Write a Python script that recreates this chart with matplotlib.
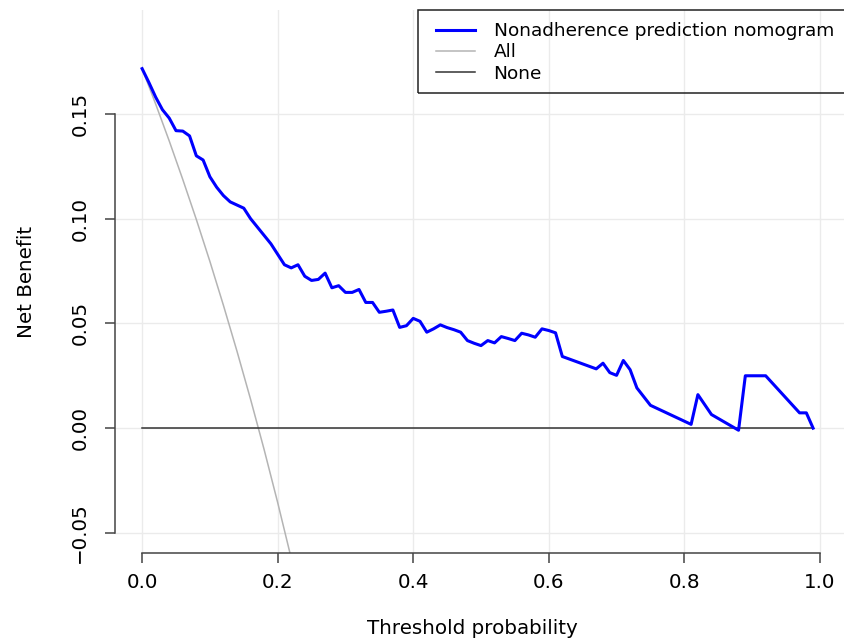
import matplotlib
matplotlib.use("Agg")
import matplotlib.pyplot as plt
from matplotlib.patches import Rectangle

# decision curve: nomogram net benefit
thresholds = [0.00, 0.01, 0.02, 0.03, 0.04, 0.05, 0.06, 0.07, 0.08, 0.09,
              0.10, 0.11, 0.12, 0.13, 0.14, 0.15, 0.16, 0.17, 0.18, 0.19,
              0.20, 0.21, 0.22, 0.23, 0.24, 0.25, 0.26, 0.27, 0.28, 0.29,
              0.30, 0.31, 0.32, 0.33, 0.34, 0.35, 0.36, 0.37, 0.38, 0.39,
              0.40, 0.41, 0.42, 0.43, 0.44, 0.45, 0.46, 0.47, 0.48, 0.49,
              0.50, 0.51, 0.52, 0.53, 0.54, 0.55, 0.56, 0.57, 0.58, 0.59,
              0.60, 0.61, 0.62, 0.67, 0.68, 0.69, 0.70, 0.71, 0.72, 0.73,
              0.75, 0.81, 0.82, 0.84, 0.88, 0.89, 0.92, 0.97, 0.98, 0.99]
nomogram_nb = [0.1716, 0.1650, 0.1580, 0.1520, 0.1480, 0.1420, 0.1418, 0.1395, 0.1300, 0.1280,
               0.1200, 0.1150, 0.1110, 0.1080, 0.1065, 0.1050, 0.1000, 0.0960, 0.0920, 0.0880,
               0.0830, 0.0780, 0.0765, 0.0780, 0.0725, 0.0705, 0.0710, 0.0740, 0.0670, 0.0680,
               0.0648, 0.0648, 0.0662, 0.0600, 0.0600, 0.0553, 0.0558, 0.0564, 0.0481, 0.0489,
               0.0524, 0.0510, 0.0458, 0.0474, 0.0493, 0.0480, 0.0470, 0.0458, 0.0418, 0.0405,
               0.0394, 0.0418, 0.0407, 0.0437, 0.0428, 0.0418, 0.0453, 0.0445, 0.0434, 0.0474,
               0.0466, 0.0455, 0.0342, 0.0283, 0.0310, 0.0265, 0.0252, 0.0323, 0.0279, 0.0192,
               0.0109, 0.0018, 0.0160, 0.0065, -0.0010, 0.0250, 0.0250, 0.0073, 0.0073, 0.0000]

# treat-all curve
all_t = [0.00, 0.02, 0.04, 0.06, 0.08, 0.10, 0.12, 0.14, 0.16, 0.18, 0.20, 0.22]
all_nb = [0.1716, 0.1547, 0.1371, 0.1187, 0.0996, 0.0796, 0.0586, 0.0367, 0.0138, -0.0102, -0.0355, -0.0621]

# treat-none
none_t = [0.00, 0.99]
none_nb = [0.0, 0.0]

xticks = [0.0, 0.2, 0.4, 0.6, 0.8, 1.0]
xtick_labels = ["0.0", "0.2", "0.4", "0.6", "0.8", "1.0"]
yticks = [-0.05, 0.00, 0.05, 0.10, 0.15]
ytick_labels = ["\u22120.05", "0.00", "0.05", "0.10", "0.15"]
legend_labels = ["Nonadherence prediction nomogram", "All", "None"]

plt.rcParams['font.family'] = ['DejaVu Sans']
FS = 14.3      # axis text
LFS = 13.3     # legend text
W, H = 844, 638

fig = plt.figure(figsize=(W / 100, H / 100), dpi=100)
ax = fig.add_axes([115 / W, 1 - 553 / H, (847 - 115) / W, (553 - 10) / H])

ax.set_xlim(-0.04, 1.04)
ax.set_ylim(-0.0596, 0.1996)

# light grid like the original
for xv in xticks:
    ax.axvline(xv, color='#ebebeb', lw=1, zorder=0)
for yv in yticks:
    ax.axhline(yv, color='#ebebeb', lw=1, zorder=0)

ax.plot(all_t, all_nb, color='#b4b4b4', lw=1.1, zorder=2)
ax.plot(none_t, none_nb, color='#333333', lw=1.1, zorder=3)
ax.plot(thresholds, nomogram_nb, color='#0000ff', lw=2.2, zorder=4,
        solid_joinstyle='round')

# R style axes: lines only between first and last tick
for s in ['top', 'right']:
    ax.spines[s].set_visible(False)
ax.spines['left'].set_bounds(-0.05, 0.15)
ax.spines['bottom'].set_bounds(0, 1)
for s in ['left', 'bottom']:
    ax.spines[s].set_color('#444444')
    ax.spines[s].set_linewidth(1.1)

ax.set_xticks(xticks)
ax.set_xticklabels(xtick_labels)
ax.set_yticks(yticks)
ax.set_yticklabels(ytick_labels, rotation=90, va='center')
ax.tick_params(axis='both', direction='out', length=7.5, width=1.1,
               color='#444444', labelsize=FS, labelcolor='#000000')
ax.tick_params(axis='x', pad=7)
ax.tick_params(axis='y', pad=11)

fig.text(472 / W, 1 - 628 / H, "Threshold probability", ha='center', va='center',
         fontsize=FS, color='#000000')
fig.text(27 / W, 1 - 282 / H, "Net Benefit", ha='center', va='center',
         rotation=90, fontsize=FS, color='#000000')

# legend box (runs off the right edge)
fig.patches.append(Rectangle((418 / W, 1 - 93 / H), (860 - 418) / W, (93 - 10) / H,
                             transform=fig.transFigure, fill=False,
                             edgecolor='#222222', lw=1.1, zorder=5))
handles = ax.get_lines()[-3:]
leg = fig.legend([handles[2], handles[0], handles[1]], legend_labels,
                 loc='upper left', bbox_to_anchor=(428 / W, 1 - 14 / H),
                 frameon=False, fontsize=LFS, handlelength=2.1,
                 handletextpad=1.0, labelspacing=0.17, borderpad=0.45,
                 borderaxespad=0)
for t in leg.get_texts():
    t.set_color('#000000')

fig.savefig('out.png', dpi=100)
